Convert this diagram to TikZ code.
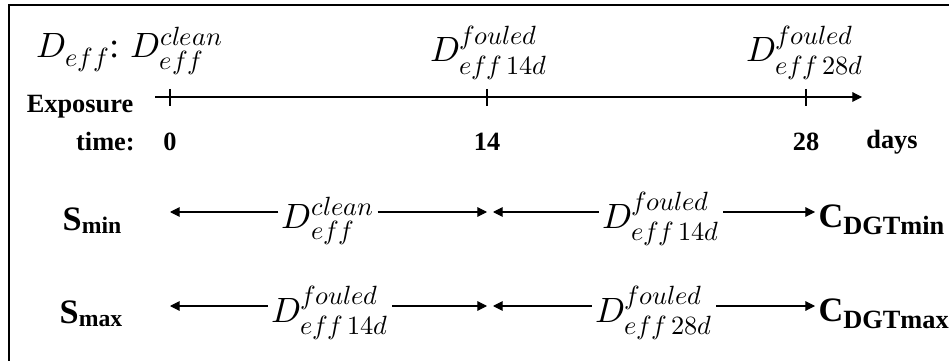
\documentclass[tikz,border=0pt]{standalone}
\usepackage{fontspec}
\usepackage{unicode-math}
\setmainfont{Liberation Serif}
\usetikzlibrary{arrows.meta}
\DeclareMathSizes{20}{20}{15}{11}

\newcommand{\subS}{\fontsize{13.5}{15}\selectfont}
\newcommand{\subC}{\fontsize{15}{17}\selectfont}

\begin{document}
\begin{tikzpicture}[
  x=0.02cm, y=-0.02cm,
  lbl/.style={font=\bfseries\fontsize{15}{17}\selectfont, inner sep=1pt},
  big/.style={font=\bfseries\fontsize{19.5}{22}\selectfont, inner sep=1.7pt},
  eq/.style={font=\fontsize{20}{24}\selectfont, inner sep=1.7pt},
  >={Triangle[length=5.5pt,width=5.5pt]},
  line width=0.6pt
]
  \useasboundingbox (0,0) rectangle (949,361);
  % frame (only left and top edges are in view)
  \draw[line width=1pt] (9,361) -- (9,5) -- (949,5);

  % time axis
  \node[eq, anchor=base west] (dtop) at (33,58) {$D_{eff}$: $D^{clean}_{eff}$};
  \node[eq, anchor=base] (d14) at (489,62) {$D^{fouled}_{eff\,14d}$};
  \node[eq, anchor=base] (d28) at (805,62) {$D^{fouled}_{eff\,28d}$};
  \node[lbl] (expo) at (80,107) {Exposure};
  \node[lbl, anchor=east] (tlabel) at (137,142) {time:};
  \coordinate (a0) at (155,97);
  \coordinate (a1) at (862,97);
  \draw[->] (a0) -- (a1);
  \foreach \x/\d in {170/0, 487/14, 806/28} {
    \draw (\x,89) -- (\x,106);
    \node[lbl] (t\d) at (\x,142) {\d};
  }
  \node[lbl] (days) at (892,142) {days};

  % lower bound row
  \coordinate (l1) at (170,212);
  \coordinate (m1a) at (487,212);
  \coordinate (m1b) at (493,212);
  \node[big, anchor=base] (smin) at (92,230) {S\raisebox{-2pt}{\subS min}};
  \node[eq, anchor=base] (dc1) at (328,228) {$D^{clean}_{eff}$};
  \node[eq, anchor=base] (d14a) at (661,228) {$D^{fouled}_{eff\,14d}$};
  \node[big, anchor=base west] (cmin) at (815,227) {C\raisebox{-4pt}{\subC DGTmin}};
  \draw[->] (dc1.west |- l1) -- (l1);
  \draw[->] (dc1.east |- l1) -- (m1a);
  \draw[->] (d14a.west |- l1) -- (m1b);
  \draw[->] (d14a.east |- l1) -- (cmin.west |- l1);

  % upper bound row
  \coordinate (l2) at (170,306);
  \coordinate (m2a) at (487,306);
  \coordinate (m2b) at (493,306);
  \node[big, anchor=base] (smax) at (91,323) {S\raisebox{-2pt}{\subS max}};
  \node[eq, anchor=base] (d14b) at (330,322) {$D^{fouled}_{eff\,14d}$};
  \node[eq, anchor=base] (d28b) at (654,322) {$D^{fouled}_{eff\,28d}$};
  \node[big, anchor=base west] (cmax) at (815,321) {C\raisebox{-4pt}{\subC DGTmax}};
  \draw[->] (d14b.west |- l2) -- (l2);
  \draw[->] (d14b.east |- l2) -- (m2a);
  \draw[->] (d28b.west |- l2) -- (m2b);
  \draw[->] (d28b.east |- l2) -- (cmax.west |- l2);
\end{tikzpicture}
\end{document}
